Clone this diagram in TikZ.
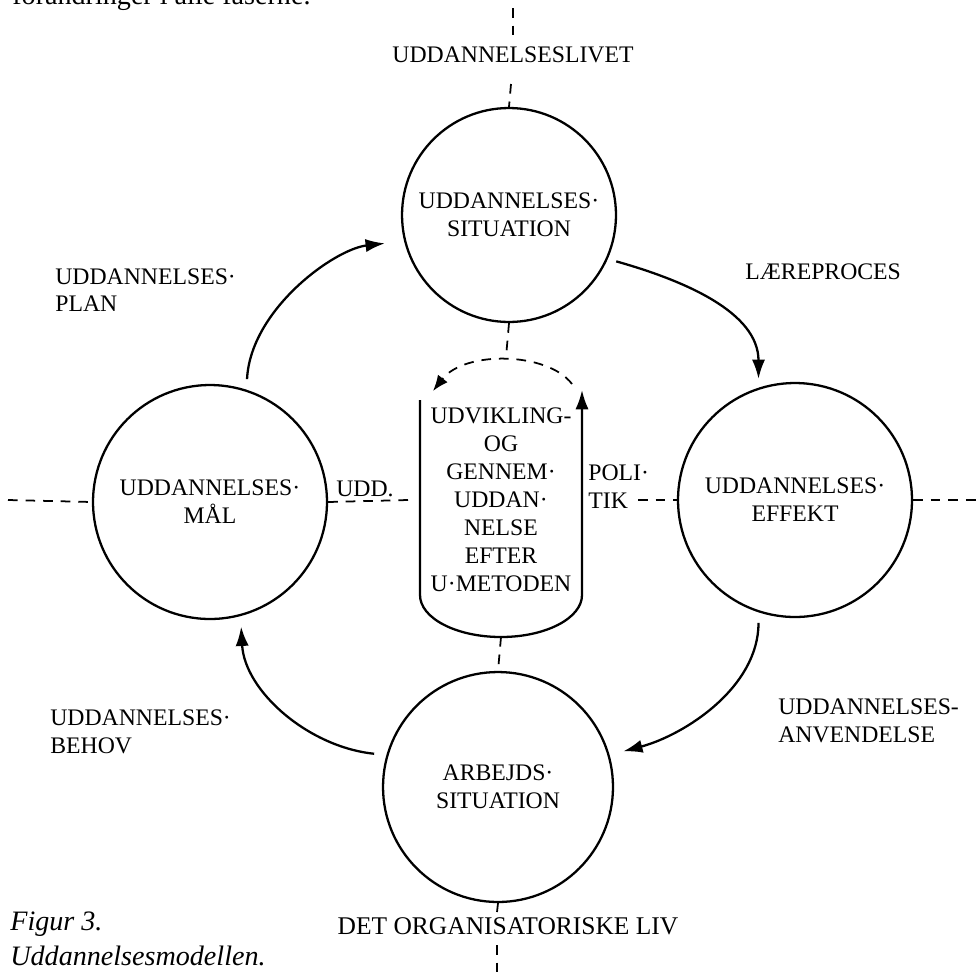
\documentclass[tikz,border=0pt]{standalone}
\usepackage{fontspec}
\setmainfont{Liberation Serif}
\usetikzlibrary{arrows.meta}
\begin{document}
\begin{tikzpicture}[x=0.02cm,y=-0.02cm,
  txt/.style={font=\fontsize{13.5}{15.9}\selectfont, inner sep=0pt, align=center},
  ltxt/.style={font=\fontsize{13.5}{15.9}\selectfont, inner sep=0pt, align=left},
  figcaption/.style={font=\fontsize{16}{19.5}\selectfont\itshape, inner sep=0pt, align=left},
  ring/.style={circle, draw, line width=1.3pt, inner sep=0pt, align=center,
    font=\fontsize{13.5}{15.9}\selectfont},
  arr/.style={line width=1.3pt, -{Latex[length=11pt,width=7.5pt]}},
  dsh/.style={line width=1pt, dash pattern=on 5.5pt off 4.5pt},
]
\useasboundingbox (0,0) rectangle (979,974);

% clipped line of running text at the top edge
\begin{scope}
  \clip (0,0) rectangle (979,974);
  \node[anchor=base west, font=\fontsize{16}{19}\selectfont, inner sep=0pt] (runin) at (12,4) {forandringer i alle faserne.};
\end{scope}

% the four circles
\node[ring, minimum size=4.28cm] (tc) at (509,215) {UDDANNELSES·\\SITUATION};
\node[ring, minimum size=4.68cm] (lc) at (210,502) {UDDANNELSES·\\MÅL};
\node[ring, minimum size=4.68cm] (rc) at (795,500) {UDDANNELSES·\\EFFEKT};
\node[ring, minimum size=4.60cm] (bc) at (498,787) {ARBEJDS·\\SITUATION};

% central column
\node[txt] (mid) at (501,500) {UDVIKLING-\\OG\\GENNEM·\\UDDAN·\\NELSE\\EFTER\\U·METODEN};
\coordinate (uL) at (420,400);
\coordinate (uR) at (582,390);
\coordinate (uBot) at (501,637);
\coordinate (arcTop) at (506,357);
\coordinate (dR) at (572,384);
\coordinate (dL) at (433,391);
\draw[arr] (uL) -- (420,595) arc[start angle=180, end angle=0, x radius=81, y radius=42] -- (uR);
\draw[dsh, -{Latex[length=9pt,width=7pt]}] (dR) .. controls (548,352) and (465,350) .. (dL);
\draw[dsh] (tc.south) -- (arcTop);
\draw[dsh] (uBot) -- (bc.north);

% cycle arrows
\draw[arr, shorten <=6pt, shorten >=11pt] (lc.72) .. controls +(4,-80) and +(-70,8) .. (tc.194);
\draw[arr, shorten <=5pt, shorten >=5pt] (tc.-24) .. controls +(78,22) and +(0,-75) .. (rc.108);
\draw[arr, shorten <=6pt, shorten >=8pt] (rc.-108) .. controls +(0,75) and +(75,-20) .. (bc.16);
\draw[arr, shorten <=7pt, shorten >=6pt] (bc.164) .. controls +(-78,-8) and +(4,75) .. (lc.-75);

% horizontal axis
\coordinate (axW) at (8,500);
\coordinate (axUdd) at (408,500);
\coordinate (axPol) at (638,500);
\coordinate (axE) at (979,500);
\draw[dsh] (axW) -- (lc.west);
\draw[dsh] (lc.east) -- (axUdd);
\draw[dsh] (axPol) -- (rc.west);
\draw[dsh] (rc.east) -- (axE);

% vertical axis
\coordinate (axN0) at (513,8);
\coordinate (axN1) at (513,40);
\coordinate (axN2) at (511,84);
\coordinate (axS0) at (497,912);
\coordinate (axS1) at (497,945);
\coordinate (axS2) at (497,974);
\draw[dsh] (axN0) -- (axN1);
\draw[dsh] (axN2) -- (tc.north);
\draw[dsh] (bc.south) -- (axS0);
\draw[dsh] (axS1) -- (axS2);

% labels
\node[txt] (liv1) at (513,55) {UDDANNELSESLIVET};
\node[txt, font=\fontsize{14.5}{17}\selectfont] (liv2) at (508,926) {DET ORGANISATORISKE LIV};
\node[ltxt, anchor=west] (laer) at (745,272) {LÆREPROCES};
\node[ltxt, anchor=north west] (plan) at (55,268) {UDDANNELSES·\\PLAN};
\node[ltxt, anchor=north west] (behov) at (50,709) {UDDANNELSES·\\BEHOV};
\node[ltxt, anchor=north west] (anv) at (778,698) {UDDANNELSES-\\ANVENDELSE};
\node[ltxt, anchor=north west] (pol) at (588,464) {POLI·\\TIK};
\node[ltxt, anchor=south west] (udd) at (336,497) {UDD.};
\node[figcaption, anchor=north west] (fig) at (10,912) {Figur 3.\\Uddannelsesmodellen.};
\end{tikzpicture}
\end{document}
